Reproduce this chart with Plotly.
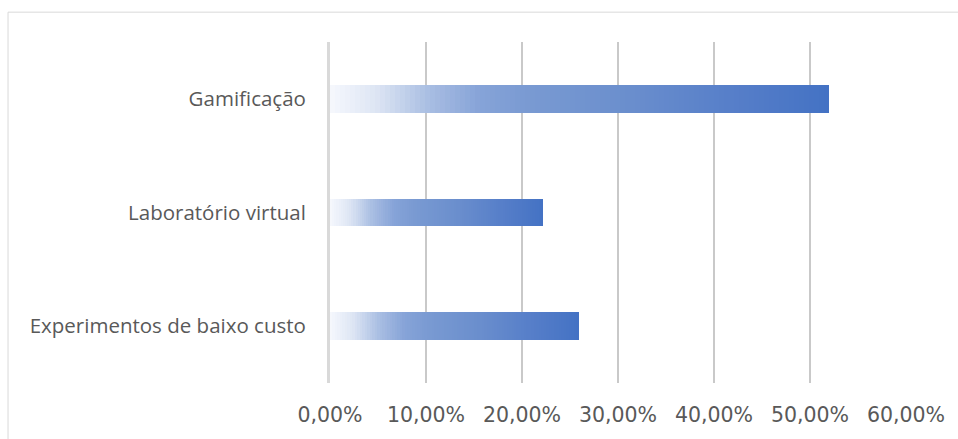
import plotly.graph_objects as go
from plotly.colors import sample_colorscale

categories = ["Experimentos de baixo custo", "Laboratório virtual", "Gamificação"]
values = [0.259, 0.222, 0.520]
tick_vals = [0, 0.1, 0.2, 0.3, 0.4, 0.5, 0.6]
tick_text = ["0,00%", "10,00%", "20,00%", "30,00%", "40,00%", "50,00%", "60,00%"]

N_SEG = 100
gradient = [
    [0.0, "rgb(246,248,253)"],
    [0.09, "rgb(222,230,244)"],
    [0.2, "rgb(168,189,226)"],
    [0.3, "rgb(134,163,216)"],
    [0.4, "rgb(121,154,210)"],
    [0.6, "rgb(106,142,205)"],
    [0.8, "rgb(87,127,201)"],
    [1.0, "rgb(68,114,196)"],
]
seg_colors = sample_colorscale(gradient, [(i + 0.5) / N_SEG for i in range(N_SEG)])

fig = go.Figure()
for i in range(N_SEG):
    fig.add_trace(go.Bar(
        y=categories,
        x=[v / N_SEG for v in values],
        orientation="h",
        marker=dict(color=seg_colors[i], line=dict(width=0)),
        width=0.245,
        showlegend=False,
        hoverinfo="skip",
    ))

fig.update_layout(
    barmode="stack",
    bargap=0,
    width=958, height=439,
    margin=dict(l=330, r=52, t=42, b=54),
    paper_bgcolor="white",
    plot_bgcolor="white",
    font=dict(family="'Open Sans', sans-serif", size=20, color="#595959"),
    xaxis=dict(
        range=[0, 0.6],
        tickvals=tick_vals,
        ticktext=tick_text,
        showgrid=True,
        gridcolor="#C9C9C9",
        gridwidth=1.5,
        zeroline=False,
        showline=False,
        ticklabelstandoff=17,
        tickfont=dict(family="'DejaVu Sans', sans-serif", size=20.5, color="#595959"),
        fixedrange=True,
    ),
    yaxis=dict(
        categoryorder="array",
        categoryarray=categories,
        showgrid=False,
        showline=True,
        linecolor="#D9D9D9",
        linewidth=3,
        ticks="",
        ticklabelstandoff=17,
        tickfont=dict(family="'Open Sans', sans-serif", size=20.5, color="#595959"),
        fixedrange=True,
    ),
    shapes=[dict(
        type="rect", xref="paper", yref="paper",
        x0=-0.559, x1=1.3, y0=-0.4, y1=1.0875,
        line=dict(color="#D9D9D9", width=1), fillcolor="rgba(0,0,0,0)",
        layer="below",
    )],
)

fig.write_html("out.html")
